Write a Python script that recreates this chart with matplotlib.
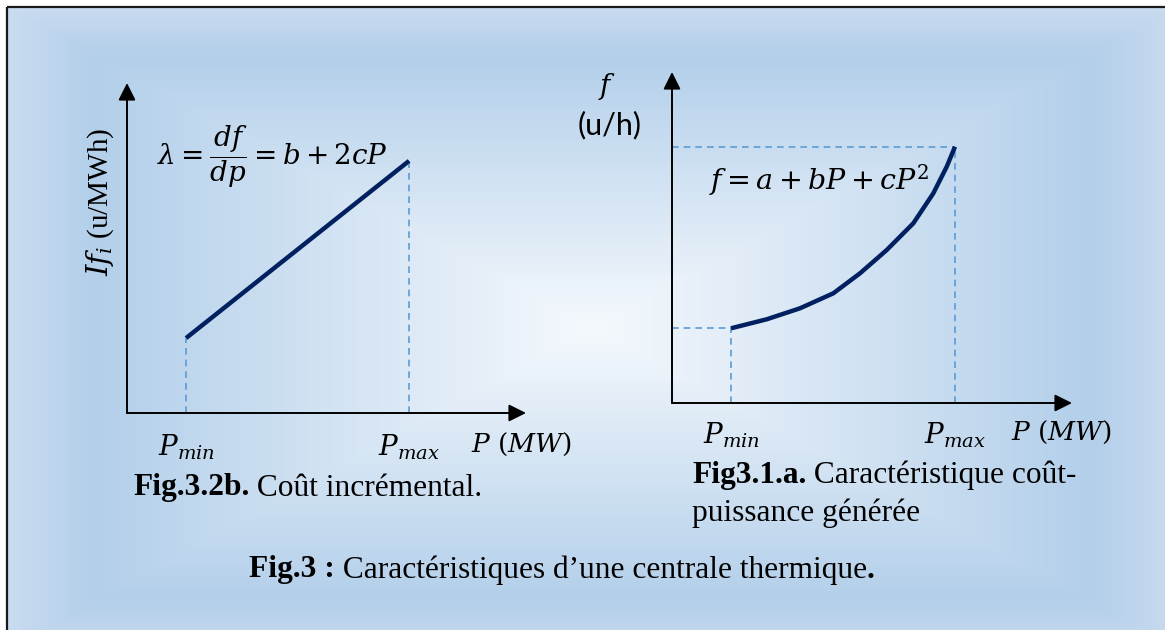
import numpy as np
import matplotlib
matplotlib.use("Agg")
import matplotlib.pyplot as plt
import matplotlib.transforms as mtransforms

plt.rcParams['mathtext.fontset'] = 'dejavuserif'

W, H, DPI = 1165, 630, 100

# ---------------- data (schematic units, axis range 0..100) ----------------
left_P = [14.8, 70.7]                 # P_min, P_max
left_lambda = [22.7, 76.4]            # incremental cost at P_min, P_max

right_P = [14.75, 23.68, 32.0, 40.33, 47.0, 53.68, 60.33, 65.33, 68.68, 70.75]
right_f = [22.57, 25.29, 28.61, 33.14, 39.18, 46.22, 54.29, 63.35, 71.39, 77.43]

tick_labels = [r'$P_{min}$', r'$P_{max}$']
x_axis_label = r'$P\ (MW)$'
left_ylabel = r'$If_i$ (u/MWh)'
left_formula = r'$\lambda = \dfrac{df}{dp} = b + 2cP$'
right_formula = r'$f = a + bP + cP^2$'
right_ylabel_sym = r'$f$'
right_ylabel_unit = '(u/h)'
caption_left = [('Fig.3.2b.', 'bold'), (' Coût incrémental.', 'normal')]
caption_right_1 = [('Fig3.1.a.', 'bold'), (' Caractéristique coût-', 'normal')]
caption_right_2 = [('puissance générée', 'normal')]
caption_main = [('Fig.3 :', 'bold'), (' Caractéristiques d\u2019une centrale thermique', 'normal'), ('.', 'bold')]

CURVE = '#002060'
DASH = '#5B9BD5'
SERIF = 'Liberation Serif'

fig = plt.figure(figsize=(W / DPI, H / DPI), dpi=DPI)


def fx(x):
    return x / W


def fy(y):
    return 1 - y / H


# ---------------- background gradient ----------------
bg = fig.add_axes([0, 0, 1, 1])
bg.set_xlim(0, W)
bg.set_ylim(H, 0)
bg.axis('off')
yy, xx = np.mgrid[0:H, 0:W] + 0.5
cx, cy, hw, hh = 593.0, 328.0, 586.0, 321.0
t = np.maximum(np.abs(xx - cx) / hw, np.abs(yy - cy) / hh)
stops_t = [0.0, 0.85, 1.0]
stops_c = np.array([[245, 249, 253], [179, 207, 234], [202, 220, 240]]) / 255.0
img = np.zeros((H, W, 3))
for k in range(3):
    img[..., k] = np.interp(t, stops_t, stops_c[:, k])
img[(xx < 7) | (yy < 7)] = 1.0
bg.imshow(img, extent=[0, W, H, 0], interpolation='bilinear', aspect='auto')
bg.plot([7, W], [7, 7], color='#1a1a1a', lw=1.6, solid_capstyle='butt')
bg.plot([7, 7], [7, H], color='#1a1a1a', lw=1.6, solid_capstyle='butt')


def make_axes(ox, oy, tipx, tipy):
    ax = fig.add_axes([fx(ox), fy(oy), (tipx - ox) / W, (oy - tipy) / H])
    ax.set_xlim(0, 100)
    ax.set_ylim(0, 100)
    ax.axis('off')
    ax.patch.set_alpha(0)
    ap = dict(arrowstyle='-|>', lw=1.4, color='k', mutation_scale=26,
              shrinkA=0, shrinkB=0)
    ax.annotate('', xy=(100, 0), xytext=(0, 0), arrowprops=ap, annotation_clip=False)
    ax.annotate('', xy=(0, 100), xytext=(0, 0), arrowprops=ap, annotation_clip=False)
    return ax


# ---------------- left diagram ----------------
axL = make_axes(127, 413, 526, 83)
axL.vlines(left_P, 0, left_lambda, colors=DASH, lw=1.2, linestyles=(0, (4, 3)))
axL.plot(left_P, left_lambda, color=CURVE, lw=3.2, solid_capstyle='butt')
trL = mtransforms.blended_transform_factory(axL.transData, axL.transAxes)
for p, lab in zip(left_P, tick_labels):
    axL.text(p, -0.105, lab, transform=trL, ha='center', va='center', fontsize=20)
axL.text(99, -0.095, x_axis_label, transform=trL, ha='center', va='center', fontsize=19)

fig.text(fx(100), fy(202), left_ylabel, rotation=90, ha='center', va='center',
         fontsize=21, family=SERIF)
fig.text(fx(157), fy(157), left_formula, ha='left', va='center', fontsize=20)

# ---------------- right diagram ----------------
axR = make_axes(672, 403, 1072, 72)
axR.hlines([right_f[0], right_f[-1]], 0, [right_P[0], right_P[-1]], colors=DASH, lw=1.2,
           linestyles=(0, (4, 3)))
axR.vlines([right_P[0], right_P[-1]], 0, [right_f[0], right_f[-1]], colors=DASH, lw=1.2,
           linestyles=(0, (4, 3)))
axR.plot(right_P, right_f, color=CURVE, lw=3.2, solid_capstyle='butt', solid_joinstyle='round')
trR = mtransforms.blended_transform_factory(axR.transData, axR.transAxes)
for p, lab in zip([right_P[0], right_P[-1]], tick_labels):
    axR.text(p, -0.097, lab, transform=trR, ha='center', va='center', fontsize=20)
axR.text(97.3, -0.088, x_axis_label, transform=trR, ha='center', va='center', fontsize=19)

fig.text(fx(607), fy(86), right_ylabel_sym, ha='center', va='center', fontsize=20)
fig.text(fx(610), fy(125), right_ylabel_unit, ha='center', va='center', fontsize=22,
         family='Lato')
fig.text(fx(709), fy(180), right_formula, ha='left', va='center', fontsize=20.5)

# ---------------- captions ----------------
fig.canvas.draw()
renderer = fig.canvas.get_renderer()


def rich(x, y, parts, size=22.6, ha='left'):
    texts = []
    cur = fx(x)
    for s, w in parts:
        tt = fig.text(cur, fy(y), s, ha='left', va='center', fontsize=size,
                      family=SERIF, weight=w)
        bb = tt.get_window_extent(renderer)
        cur = bb.x1 / W
        texts.append(tt)
    if ha == 'center':
        total = cur - fx(x)
        for tt in texts:
            px_, py_ = tt.get_position()
            tt.set_position((px_ - total / 2, py_))


rich(133, 488, caption_left)
rich(692, 475, caption_right_1)
rich(692, 513, caption_right_2)
rich(562, 570, caption_main, ha='center')

fig.savefig('out.png', dpi=DPI)
